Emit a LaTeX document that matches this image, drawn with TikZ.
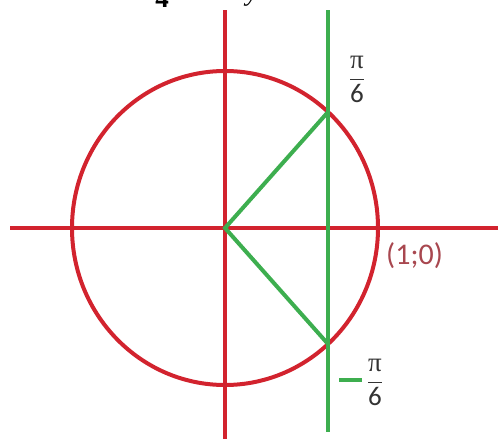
\documentclass[tikz,border=0pt]{standalone}
\usepackage{fontspec}
\setmainfont{Carlito}
\newfontfamily\piserif{Liberation Serif}
\newcommand{\pisix}{$\displaystyle\frac{\mbox{\piserif π}}{\mbox{6}}$}
\begin{document}
\begin{tikzpicture}[x=1pt,y=-1pt,
  redline/.style={draw=axisred,line width=4pt},
  greenline/.style={draw=axisgreen,line width=4pt},
  lbl/.style={inner sep=0pt,font=\fontsize{27}{30}\selectfont},
  biglbl/.style={inner sep=0pt,font=\fontsize{30}{34}\selectfont}]
\definecolor{axisred}{HTML}{D2232E}
\definecolor{axisgreen}{HTML}{3DAE4F}
\definecolor{lblgray}{HTML}{333333}
\definecolor{lblred}{HTML}{A8474F}
\useasboundingbox (0,0) rectangle (498,439);
\clip (0,0) rectangle (498,439);
% cut-off text at the top
\node[lbl,anchor=base,text=black] (t1) at (162,7) {\piserif\bfseries 4};
\node[lbl,anchor=base,text=black] (t2) at (252,1) {\piserif\itshape y};
\node[lbl,anchor=base,text=black] (t3) at (413,-6) {\piserif g};
% coordinates
\coordinate (O) at (225,228);
\coordinate (xl) at (10,228);
\coordinate (xr) at (498,228);
\coordinate (yt) at (225,10);
\coordinate (yb) at (225,439);
\coordinate (gt) at (328,10);
\coordinate (gb) at (328,432);
\coordinate (P) at (328,112);
\coordinate (Q) at (328,344);
\coordinate (m1) at (339,380);
\coordinate (m2) at (362,380);
% circle and axes
\draw[redline] (O) ellipse[x radius=153,y radius=157];
\draw[redline] (xl) -- (xr);
\draw[redline] (yt) -- (yb);
% green
\draw[greenline] (gt) -- (gb);
\draw[greenline] (P) -- (O) -- (Q);
% labels
\node[lbl,text=lblgray] (pi1) at (357,79) {\pisix};
\node[lbl,text=lblgray] (pi2) at (375,382) {\pisix};
\draw[axisgreen,line width=4pt] (m1) -- (m2);
\node[biglbl,text=lblred,anchor=west] (one) at (386,256) {(1;0)};
\end{tikzpicture}
\end{document}
